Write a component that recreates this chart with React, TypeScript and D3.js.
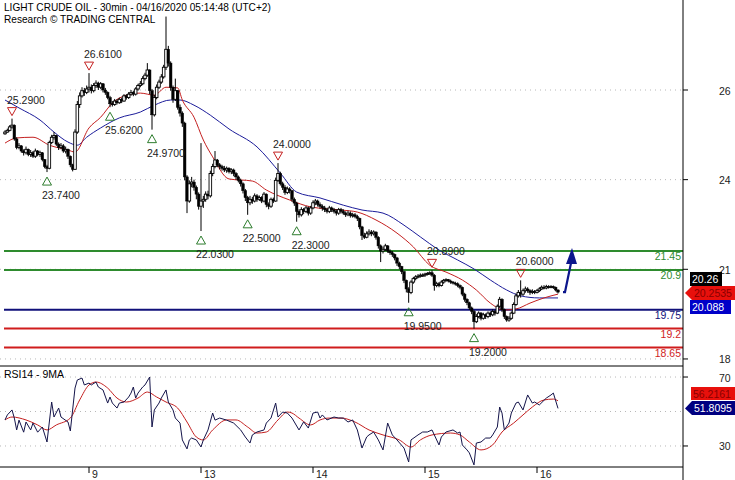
import React from 'react';
import * as d3 from 'd3';

// ---- price bars, 30min, [high, low, close]; open = previous close ----
const firstOpen = 24.85;
const apr08: [number, number, number][] = [
  [24.95,24.82,24.90],[25.00,24.88,24.95],[25.10,24.92,25.05],[25.29,25.00,25.10],[25.12,24.65,24.70],
  [24.75,24.40,24.45],[24.58,24.40,24.50],[24.52,24.30,24.35],[24.40,24.22,24.30],[24.48,24.25,24.40],
  [24.42,24.20,24.25],[24.38,24.18,24.30],[24.35,24.15,24.20],[24.42,24.15,24.35],[24.38,24.20,24.25],
  [24.36,24.18,24.30],[24.32,24.05,24.10],[24.12,23.85,23.90],[23.95,23.74,23.85],[24.65,23.82,24.60],
  [24.82,24.55,24.75],[24.90,24.68,24.80],[24.82,24.50,24.55],[24.60,24.38,24.45],[24.58,24.40,24.50],
  [24.55,24.30,24.35],[24.48,24.28,24.40],[24.42,24.12,24.20],[24.22,23.88,23.95],[23.98,23.76,23.82],
  [24.98,23.80,24.90],[25.80,24.85,25.70],[26.05,25.60,25.95],[26.20,25.90,26.10],[26.18,25.95,26.05],
  [26.25,26.00,26.15],
];
const apr09: [number, number, number][] = [
  [26.61,26.05,26.20],[26.28,26.02,26.10],[26.32,26.05,26.25],[26.40,26.18,26.32],[26.36,26.12,26.20],
  [26.35,26.15,26.30],[26.32,26.05,26.12],[26.18,25.98,26.05],[26.08,25.85,25.90],[25.95,25.62,25.72],
  [25.80,25.64,25.70],[25.86,25.66,25.80],[25.85,25.70,25.75],[25.90,25.72,25.85],[25.90,25.74,25.80],
  [26.00,25.78,25.95],[26.00,25.84,25.90],[26.06,25.86,26.00],[26.12,25.95,26.05],[26.10,25.94,26.00],
  [26.20,25.96,26.15],[26.30,26.10,26.25],[26.38,26.20,26.30],[26.52,26.26,26.45],[26.62,26.40,26.55],
  [26.90,26.50,26.70],[26.72,26.00,26.10],[26.15,24.97,25.40],[25.98,25.35,25.90],[26.28,25.85,26.20],
  [26.42,26.15,26.35],[26.58,26.30,26.50],[26.85,26.45,26.78],[28.25,26.70,27.30],[27.40,26.80,26.90],
  [26.95,26.10,26.20],[26.25,25.75,25.85],[26.45,25.80,26.10],[26.12,25.55,25.62],[25.70,25.35,25.45],
  [25.50,25.05,25.16],[25.20,23.50,23.60],[23.65,22.55,22.90],[23.50,22.85,23.40],[23.60,23.30,23.45],
  [23.52,23.20,23.30],[23.35,22.95,23.10],[23.15,22.65,22.75],
];
const apr13: [number, number, number][] = [
  [24.58,22.03,22.90],[23.05,22.70,22.95],[23.18,22.88,23.10],[23.20,22.95,23.05],[23.78,23.00,23.70],
  [23.98,23.62,23.90],[24.35,23.85,24.09],[24.12,23.88,23.95],[24.00,23.82,23.90],[23.95,23.78,23.85],
  [23.92,23.74,23.80],[23.90,23.72,23.85],[23.88,23.70,23.75],[23.85,23.68,23.80],[23.84,23.62,23.70],
  [23.74,23.52,23.60],[23.64,23.44,23.50],[23.55,23.32,23.40],[23.44,23.12,23.20],[23.25,22.90,23.00],
  [23.05,22.50,22.85],[23.05,22.78,22.95],[23.02,22.82,22.90],[23.12,22.86,23.05],[23.10,22.88,22.95],
  [23.06,22.90,23.00],[23.04,22.84,22.90],[23.16,22.86,23.10],[23.12,22.72,22.80],[22.86,22.66,22.75],
  [23.00,22.70,22.95],[23.00,22.84,22.90],[23.58,22.88,23.50],[24.00,23.45,23.70],[23.75,23.35,23.40],
  [23.46,23.22,23.30],[23.36,23.08,23.15],[23.32,23.10,23.25],[23.30,23.12,23.20],[23.22,22.88,22.95],
  [23.00,22.76,22.84],[22.88,22.30,22.60],[22.66,22.42,22.50],[22.72,22.45,22.65],[22.70,22.52,22.60],
  [22.76,22.55,22.70],[22.74,22.48,22.55],[22.76,22.50,22.70],
];
const apr14: [number, number, number][] = [
  [22.92,22.66,22.85],[22.96,22.78,22.90],[22.94,22.74,22.80],[22.86,22.68,22.75],[22.80,22.62,22.70],
  [22.76,22.58,22.65],[22.70,22.54,22.60],[22.76,22.55,22.70],[22.74,22.58,22.65],[22.70,22.54,22.60],
  [22.66,22.48,22.55],[22.70,22.50,22.65],[22.70,22.54,22.60],[22.66,22.50,22.55],[22.60,22.44,22.50],
  [22.62,22.46,22.55],[22.60,22.42,22.48],[22.56,22.42,22.50],[22.55,22.40,22.45],[22.50,22.32,22.40],
  [22.42,22.08,22.15],[22.18,21.77,21.90],[21.98,21.80,21.85],[22.02,21.82,21.95],[22.08,21.90,22.00],
  [22.06,21.88,21.95],[22.05,21.90,22.00],[22.02,21.78,21.85],[21.88,21.52,21.60],[21.64,21.13,21.45],
  [21.58,21.38,21.50],[21.66,21.45,21.60],[21.62,21.40,21.45],[21.50,21.34,21.40],[21.45,21.28,21.35],
  [21.38,21.18,21.25],[21.28,21.02,21.10],[21.14,20.92,21.00],[21.02,20.78,20.85],[20.88,20.52,20.60],
  [20.62,20.25,20.35],[20.40,19.95,20.25],[20.60,20.20,20.55],[20.70,20.50,20.65],[20.75,20.60,20.70],
  [20.78,20.66,20.72],[20.80,20.68,20.75],[20.80,20.70,20.75],
];
const apr15: [number, number, number][] = [
  [20.82,20.70,20.78],[20.84,20.74,20.80],[20.86,20.76,20.82],[20.89,20.70,20.75],[20.78,20.30,20.45],
  [20.56,20.40,20.50],[20.55,20.40,20.45],[20.60,20.42,20.55],[20.64,20.50,20.60],[20.66,20.56,20.62],
  [20.64,20.54,20.58],[20.62,20.50,20.55],[20.58,20.48,20.52],[20.56,20.45,20.50],[20.54,20.40,20.45],
  [20.48,20.34,20.40],[20.42,20.14,20.20],[20.24,19.98,20.05],[20.08,19.88,19.95],[19.98,19.74,19.80],
  [19.84,19.62,19.70],[19.74,19.20,19.40],[19.62,19.36,19.55],[19.70,19.50,19.65],[19.68,19.44,19.50],
  [19.66,19.46,19.60],[19.64,19.48,19.55],[19.70,19.50,19.65],[19.70,19.54,19.60],[19.76,19.56,19.70],
  [19.74,19.58,19.65],[19.90,19.62,19.85],[20.12,19.80,20.05],[20.08,19.68,19.75],[19.78,19.48,19.55],
  [19.58,19.40,19.45],[19.56,19.40,19.50],[19.70,19.46,19.65],[19.96,19.62,19.90],[20.22,19.86,20.15],
  [20.32,20.10,20.25],[20.60,20.10,20.20],[20.36,20.15,20.30],[20.42,20.24,20.35],[20.40,20.24,20.30],
  [20.34,20.18,20.25],[20.34,20.20,20.28],[20.32,20.20,20.25],
];
const apr16: [number, number, number][] = [
  [20.35,20.22,20.30],[20.40,20.26,20.35],[20.45,20.32,20.40],[20.46,20.34,20.38],[20.47,20.34,20.42],
  [20.46,20.36,20.40],[20.46,20.37,20.42],[20.45,20.35,20.40],[20.42,20.28,20.32],[20.34,20.22,20.26],
];

// ---- moving averages [barIndex, value] ----
const fastMA: [number, number][] = [
  [0,24.58],[5,24.73],[12,24.75],[19,24.52],[27,24.38],[30,24.32],[36,25.02],[41,25.33],[46,25.74],
  [52,25.97],[58,26.03],[64,25.97],[69,26.20],[74,26.18],[76,25.83],[81,25.33],[85,24.67],[89,24.18],
  [96,23.54],[106,23.48],[112,23.22],[122,22.93],[131,22.73],[144,22.64],[151,22.58],[159,22.35],
  [168,21.97],[175,21.57],[182,21.04],[189,20.84],[196,20.61],[202,20.32],[208,19.94],[214,19.74],
  [219,19.77],[225,19.94],[231,20.09],[237,20.2],
];
const slowMA: [number, number][] = [
  [0,25.83],[6,25.60],[15,25.25],[21,24.90],[27,24.61],[31,24.52],[35,24.75],[41,25.02],[49,25.31],
  [58,25.48],[64,25.68],[71,25.83],[75,25.83],[81,25.68],[88,25.39],[96,24.99],[108,24.47],[118,23.71],
  [125,23.16],[135,22.99],[145,22.78],[153,22.64],[162,22.55],[171,22.20],[178,21.86],[186,21.48],
  [194,21.19],[201,20.93],[208,20.61],[215,20.32],[221,20.15],[229,20.09],[237,20.09],
];

// ---- RSI14 and its 9MA [barIndex, value] ----
const rsi14: [number, number][] = [
  [0,45.1],[1,48.0],[3,50.9],[4,46.2],[5,39.3],[6,45.0],[8,38.0],[9,43.9],[11,39.3],[12,43.3],[14,38.0],
  [16,41.0],[18,32.3],[20,55.5],[21,46.8],[23,52.0],[24,46.8],[27,43.9],[28,38.7],[30,63.6],[31,68.3],
  [33,69.4],[34,65.4],[36,66.5],[37,65.4],[39,67.1],[40,64.2],[42,62.5],[44,54.9],[45,58.4],[46,54.9],
  [48,52.0],[49,54.9],[51,55.5],[53,58.4],[54,60.7],[55,64.2],[56,57.8],[57,60.7],[59,64.2],[60,65.4],
  [62,70.0],[63,41.0],[64,50.9],[66,54.9],[67,57.8],[69,62.5],[70,55.5],[72,50.9],[73,46.2],[75,43.3],
  [76,33.5],[78,28.3],[79,33.5],[80,34.6],[82,33.5],[84,29.4],[85,33.5],[87,39.3],[89,49.1],[90,45.0],
  [92,46.2],[95,45.0],[98,43.3],[101,39.3],[103,35.2],[105,31.7],[106,36.4],[108,38.1],[111,39.3],
  [112,43.3],[114,46.2],[116,54.9],[117,46.8],[119,49.7],[121,49.1],[123,46.2],[126,39.3],[128,44.0],
  [130,40.4],[132,49.1],[134,49.7],[135,46.2],[136,48.0],[138,45.1],[141,46.8],[143,46.2],[145,46.2],
  [147,43.9],[149,45.1],[151,39.3],[153,28.8],[155,35.2],[156,36.4],[158,38.1],[160,33.5],[162,27.7],
  [164,43.3],[166,36.4],[168,33.5],[171,28.8],[173,20.7],[174,33.5],[177,36.4],[179,38.1],[181,38.1],
  [183,39.3],[184,36.4],[186,30.6],[187,35.2],[189,38.1],[192,39.3],[194,37.5],[195,38.1],[196,30.6],
  [198,27.7],[199,26.0],[201,19.0],[202,31.7],[204,32.3],[206,34.6],[208,34.6],[209,36.4],[211,41.0],
  [212,52.6],[213,49.1],[214,39.3],[216,43.3],[217,49.1],[219,54.9],[220,55.5],[222,50.9],[224,59.6],
  [226,54.9],[227,55.5],[229,53.8],[232,57.8],[234,59.6],[235,60.7],[237,51.8],
];
const rsiMA9: [number, number][] = [
  [0,45.1],[3,46.8],[9,45.1],[14,42.2],[18,39.3],[22,42.2],[28,46.2],[32,56.7],[36,65.4],[39,67.1],
  [44,63.6],[48,57.8],[52,55.5],[57,57.8],[61,61.3],[65,58.4],[69,55.5],[74,52.0],[78,43.9],[82,35.2],
  [85,33.5],[89,39.3],[95,45.1],[99,45.1],[104,41.0],[108,37.5],[112,38.1],[117,45.1],[121,49.7],
  [123,49.1],[126,46.2],[131,42.2],[135,45.1],[139,46.2],[144,46.2],[150,43.9],[156,39.3],[162,36.4],
  [169,33.5],[174,29.4],[178,33.5],[183,36.4],[191,37.5],[195,36.4],[199,32.3],[204,27.7],[209,30.6],
  [213,38.1],[218,43.3],[222,48.0],[226,52.6],[231,56.7],[235,57.2],[237,56.2],
];

// ---- signals [barIndex, price] ----
const peaks: [number, number][] = [[3,25.29],[36,26.61],[117,24.00],[183,20.89],[221,20.60]];
const troughs: [number, number][] = [[18,23.74],[45,25.62],[63,24.97],[84,22.03],[104,22.50],[125,22.30],[173,19.95],[201,19.20]];

// ---- levels ----
const resistanceLevels = [21.45, 20.9];
const pivotLevels = [19.75];
const supportLevels = [19.2, 18.65];
const targetLevel = 21.45;

// ---- axes ----
const dayTickIndex = [36, 84, 132, 180, 228];
const dayTickLabels = ['9', '13', '14', '15', '16'];
const priceTicks = [18.32, 20.92, 23.52, 26.12];
const priceTickLabels = ['18', '21', '24', '26'];
const rsiTicks = [70, 30];
const rsiGrid = [70, 50, 30];

const lastPrice = 20.26;
const fastLast = '20.2535';
const slowLast = '20.088';
const rsiLastValue = 51.8095;
const rsiLastText = '51.8095';
const rsiMALastText = '56.2161';

const W = 735, H = 480;
const AXIS_X = 683;
const FONT = '"Liberation Sans", Arial, sans-serif';

export default function App() {
  const bars = [...apr08, ...apr09, ...apr13, ...apr14, ...apr15, ...apr16];
  const n = bars.length;
  const x = d3.scaleLinear().domain([0, n - 1]).range([5, 558]);
  const y = d3.scaleLinear().domain([18.29, 28.73]).range([360, 0]);
  const yR = d3.scaleLinear().domain([17.8, 76.4]).range([467, 366]);

  const maLine = d3.line<[number, number]>().x(d => x(d[0])).y(d => y(d[1])).curve(d3.curveMonotoneX);
  const rsiLine = d3.line<[number, number]>().x(d => x(d[0])).y(d => yR(d[1]));
  const rsiMaLine = d3.line<[number, number]>().x(d => x(d[0])).y(d => yR(d[1])).curve(d3.curveMonotoneX);

  const fs = 10.5;
  const lastX = x(n - 1);
  const y0 = y(lastPrice);
  const yT = y(targetLevel);
  const sx = lastX + 5;

  const levelLine = (v: number, color: string, key: string) => (
    <g key={key}>
      <line x1={4} x2={AXIS_X} y1={y(v)} y2={y(v)} stroke={color} strokeWidth={2} />
      <text x={681} y={y(v) + 9} textAnchor="end" fill={color} fontSize={fs}>{String(v)}</text>
    </g>
  );

  return (
    <svg width={W} height={H} style={{ position: 'fixed', left: 0, top: 0, background: '#fff' }} fontFamily={FONT}>
      <rect x={0} y={0} width={W} height={H} fill="#fff" />
      {/* gridlines */}
      {priceTicks.map((t, i) => (
        <line key={'pg' + i} x1={0} x2={AXIS_X} y1={y(t)} y2={y(t)} stroke="#b8b8b8" strokeDasharray="1,4" />
      ))}
      {rsiGrid.map((t, i) => (
        <line key={'rg' + i} x1={0} x2={AXIS_X} y1={yR(t)} y2={yR(t)} stroke="#b8b8b8" strokeDasharray="1,4" />
      ))}

      {/* levels */}
      {resistanceLevels.map((v, i) => levelLine(v, '#2e8b2e', 'r' + i))}
      {pivotLevels.map((v, i) => levelLine(v, '#10107a', 'p' + i))}
      {supportLevels.map((v, i) => levelLine(v, '#d01c1c', 's' + i))}

      {/* moving averages */}
      <path d={maLine(slowMA) || ''} fill="none" stroke="#1c1c9a" strokeWidth={1} />
      <path d={maLine(fastMA) || ''} fill="none" stroke="#c42020" strokeWidth={1} />

      {/* candles */}
      {bars.map((b, i) => {
        const o = i === 0 ? firstOpen : bars[i - 1][2];
        const [h, l, c] = b;
        const cx = x(i);
        const top = y(Math.max(o, c));
        const bot = y(Math.min(o, c));
        const up = c >= o;
        return (
          <g key={'c' + i}>
            <line x1={cx} x2={cx} y1={y(h)} y2={y(l)} stroke="#000" strokeWidth={1} />
            <rect x={cx - 1.3} y={top} width={2.6} height={Math.max(1, bot - top)}
              fill={up ? '#fff' : '#000'} stroke="#000" strokeWidth={up ? 0.9 : 0.5} />
          </g>
        );
      })}

      {/* signals */}
      {peaks.map(([i, v], k) => {
        const cx = x(i), vy = y(v);
        return (
          <g key={'pk' + k}>
            <path d={`M${cx - 4.5},${vy - 11}L${cx + 4.5},${vy - 11}L${cx},${vy - 3}Z`} fill="none" stroke="#c42020" strokeWidth={1} />
            <text x={cx - 5} y={vy - 15} fontSize={fs} fill="#222">{v.toFixed(4)}</text>
          </g>
        );
      })}
      {troughs.map(([i, v], k) => {
        const cx = x(i), vy = y(v);
        return (
          <g key={'tr' + k}>
            <path d={`M${cx},${vy + 5}L${cx + 4.5},${vy + 13}L${cx - 4.5},${vy + 13}Z`} fill="none" stroke="#2e7d2e" strokeWidth={1} />
            <text x={cx - 5} y={vy + 27} fontSize={fs} fill="#222">{v.toFixed(4)}</text>
          </g>
        );
      })}

      {/* target arrow */}
      <path d={`M${sx},${y0}L${sx + 2},${y0}L${sx + 8},${yT + 12}`} fill="none" stroke="#0c168c" strokeWidth={2.2} />
      <path d={`M${sx + 9},${yT - 3}L${sx + 14},${yT + 13}L${sx + 3},${yT + 13}Z`} fill="#0c168c" />

      {/* title */}
      <text x={4} y={10.5} fontSize={10.1} fill="#000">LIGHT CRUDE OIL - 30min - 04/16/2020 05:14:48 (UTC+2)</text>
      <text x={4} y={23} fontSize={10.1} fill="#000">Research © TRADING CENTRAL</text>

      {/* panel borders */}
      <line x1={0} x2={AXIS_X} y1={366} y2={366} stroke="#000" strokeWidth={1} />
      <line x1={0} x2={AXIS_X} y1={467} y2={467} stroke="#000" strokeWidth={1} />
      <line x1={AXIS_X} x2={AXIS_X} y1={0} y2={H} stroke="#000" strokeWidth={1} />

      {/* RSI */}
      <path d={rsiMaLine(rsiMA9) || ''} fill="none" stroke="#c42020" strokeWidth={1} />
      <path d={rsiLine(rsi14) || ''} fill="none" stroke="#14144a" strokeWidth={1} />
      <text x={4} y={378} fontSize={fs} fill="#000">RSI14 - 9MA</text>

      {/* right axis ticks */}
      {priceTicks.map((t, i) => (
        <g key={'pt' + i}>
          <line x1={AXIS_X} x2={AXIS_X + 5} y1={y(t)} y2={y(t)} stroke="#000" />
          <text x={719} y={y(t) + 4.5} fontSize={fs} fill="#222">{priceTickLabels[i]}</text>
        </g>
      ))}
      {rsiTicks.map((t, i) => (
        <g key={'rt' + i}>
          <line x1={AXIS_X} x2={AXIS_X + 5} y1={yR(t)} y2={yR(t)} stroke="#000" />
          <text x={719} y={yR(t) + 4.5} fontSize={fs} fill="#222">{String(t)}</text>
        </g>
      ))}

      {/* bottom axis */}
      {dayTickIndex.map((di, i) => (
        <g key={'dt' + i}>
          <line x1={x(di)} x2={x(di)} y1={467} y2={473} stroke="#000" />
          <text x={x(di) + 3} y={478} fontSize={fs} fill="#222">{dayTickLabels[i]}</text>
        </g>
      ))}

      {/* last value tags */}
      <rect x={690} y={272} width={32} height={14} fill="#000" />
      <text x={692} y={283} fontSize={fs} fill="#fff">{lastPrice.toFixed(2)}</text>
      <path d={`M685,${y0 + 1}L692,286L735,286L735,300L692,300Z`} fill="#e8100c" />
      <text x={694} y={297} fontSize={fs} fill="#8a0000">{fastLast}</text>
      <rect x={690} y={300} width={41} height={14} fill="#0000c8" />
      <text x={692} y={311} fontSize={fs} fill="#fff">{slowLast}</text>

      <rect x={691} y={387} width={44} height={13} fill="#e8100c" />
      <text x={693} y={397.5} fontSize={fs} fill="#8a0000">{rsiMALastText}</text>
      <path d={`M685,${yR(rsiLastValue)}L692,401L735,401L735,415L692,415Z`} fill="#000080" />
      <text x={694} y={412} fontSize={fs} fill="#fff">{rsiLastText}</text>
    </svg>
  );
}
